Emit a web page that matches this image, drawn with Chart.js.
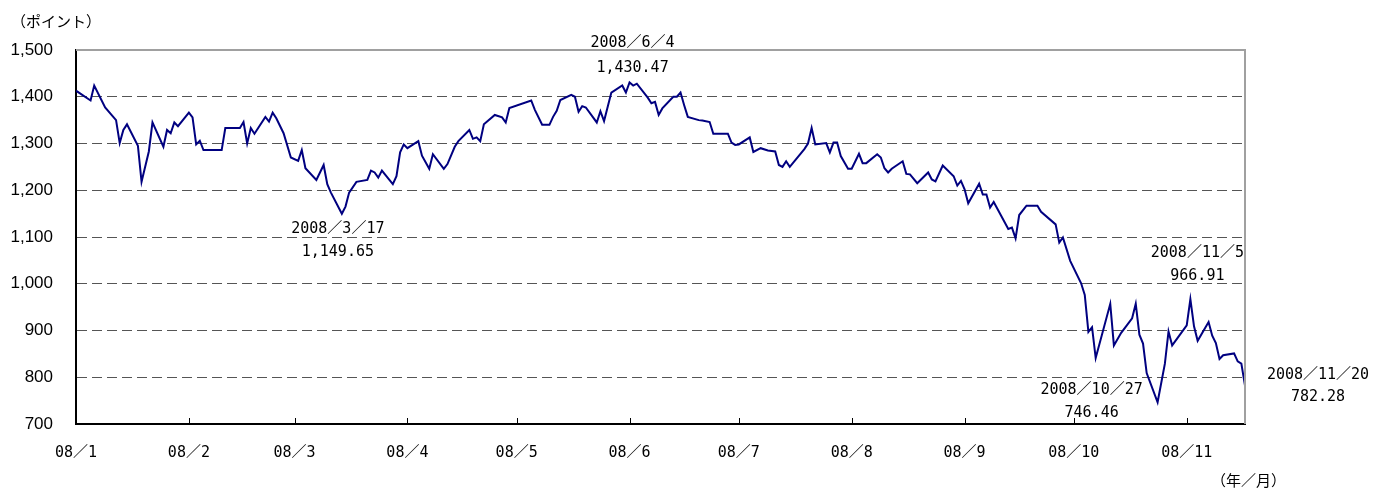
<!DOCTYPE html>
<html><head><meta charset="utf-8">
<script src="https://cdn.jsdelivr.net/npm/chart.js@4/dist/chart.umd.min.js"></script>
<style>html,body{margin:0;padding:0;background:#fff;}#wrap{width:1385px;height:489px;position:relative;}</style>
</head><body><div id="wrap"><canvas id="c" width="1385" height="489"></canvas></div>
<script>
// Days since 2008-01-01 (0 = Jan 1) for each plotted trading day
const dayIndex = [3,7,8,11,14,15,16,17,20,21,23,24,27,28,29,30,31,34,35,36,37,38,43,44,48,49,50,51,52,55,56,57,58,60,62,64,65,66,69,71,72,73,76,77,78,80,83,84,85,86,87,90,91,92,93,94,97,98,100,101,104,105,107,108,111,112,113,114,115,118,120,121,122,128,129,131,133,134,135,136,139,140,141,142,143,146,147,148,150,153,154,155,156,157,160,161,162,163,164,167,168,169,170,171,174,175,177,178,182,183,184,185,188,189,191,193,195,196,197,198,199,203,204,205,206,209,210,211,212,213,215,216,218,219,220,223,224,225,226,227,230,231,232,234,237,238,239,241,244,245,246,247,248,251,252,253,254,255,259,260,261,262,264,267,268,272,273,274,276,279,280,281,282,283,287,288,290,293,294,295,296,297,300,302,303,304,308,309,310,311,314,315,316,317,318,321,322,323,324];
// Index values (points)
const indexValues = [1413,1392,1424,1377,1350,1301,1329,1341,1295,1218,1283,1345,1293,1329,1322,1345,1337,1366,1356,1298,1306,1286,1286,1333,1333,1346,1300,1333,1321,1357,1347,1366,1354,1322,1270,1263,1286,1247,1222,1254,1213,1195,1149.65,1165,1195,1218,1222,1242,1238,1227,1242,1213,1230,1281,1298,1290,1305,1274,1246,1277,1246,1256,1293,1305,1329,1310,1313,1305,1341,1361,1356,1345,1376,1392,1372,1340,1340,1357,1370,1393,1404,1400,1368,1380,1377,1345,1369,1348,1409,1424,1409,1430.47,1424,1428,1398,1386,1389,1361,1375,1400,1400,1409,1382,1357,1350,1349,1346,1321,1321,1302,1297,1298,1313,1282,1290,1285,1283,1254,1250,1262,1250,1288,1300,1333,1298,1301,1281,1302,1302,1273,1246,1246,1278,1258,1258,1277,1270,1247,1238,1246,1262,1235,1234,1215,1238,1223,1219,1253,1230,1210,1220,1202,1172,1214,1191,1191,1163,1175,1117,1120,1097,1147,1167,1167,1154,1127,1088,1099,1049,1001,976,897,907,841,957,868,895,926,957,891,872,809,746.46,829,898,868,911,966.91,909,878,918,889,873,839,847,851,834,829,782.28];
// X axis ticks (days since Jan 1) and their labels
const tickDays = [3,34,63,94,124,155,185,216,247,277,308];
const tickLabels = ['08／1','08／2','08／3','08／4','08／5','08／6','08／7','08／8','08／9','08／10','08／11'];
// Y axis
const yMin = 700, yMax = 1500, yStep = 100;
// Annotated points
const noteDays = [155, 76, 309, 300, 324];
const noteDates = ['2008／6／4','2008／3／17','2008／11／5','2008／10／27','2008／11／20'];
const noteValues = ['1,430.47','1,149.65','966.91','746.46','782.28'];
// label offsets (style only) relative to the point: [dx, dy line1, dy line2]
const noteOffsets = [[3,-39.5,-14],[-4,15,38],[7,-46,-23],[-66,-12,11],[73,-10.5,11.5]];

const points = dayIndex.map((d,i)=>({x:d, y:indexValues[i]}));
const monoFamily = '"DejaVu Sans Mono", "Noto Sans CJK JP", monospace';
const monoFont = '15px ' + monoFamily;
const cjkFont = '15px "Noto Sans CJK JP", sans-serif';

const decor = {
  id:'decor',
  afterDraw(chart){
    const {ctx, chartArea:a, scales:{x, y}} = chart;
    ctx.save();
    ctx.strokeStyle = '#a0a0a0'; ctx.lineWidth = 2;
    ctx.beginPath(); ctx.moveTo(a.left, a.top); ctx.lineTo(a.right, a.top); ctx.lineTo(a.right, a.bottom); ctx.stroke();
    ctx.strokeStyle = '#000'; ctx.lineWidth = 1;
    tickDays.forEach(d=>{
      const px = Math.round(x.getPixelForValue(d)) + 0.5;
      ctx.beginPath(); ctx.moveTo(px, a.bottom); ctx.lineTo(px, a.bottom - 6); ctx.stroke();
    });
    ctx.fillStyle = '#000'; ctx.font = monoFont; ctx.textAlign = 'center'; ctx.textBaseline = 'middle';
    noteDays.forEach((d,i)=>{
      const v = indexValues[dayIndex.indexOf(d)];
      const px = x.getPixelForValue(d), py = y.getPixelForValue(v);
      const o = noteOffsets[i];
      ctx.fillText(noteDates[i], px + o[0], py + o[1]);
      ctx.fillText(noteValues[i], px + o[0], py + o[2]);
    });
    ctx.font = cjkFont; ctx.textAlign = 'left';
    ctx.fillText('（ポイント）', 11, 21);
    ctx.fillText('（年／月）', 1211, 480);
    ctx.restore();
  }
};

new Chart(document.getElementById('c'), {
  type:'line',
  data:{datasets:[{data:points, borderColor:'#000080', borderWidth:2, pointRadius:0, tension:0, fill:false}]},
  options:{
    responsive:false, animation:false, devicePixelRatio:1,
    layout:{padding:{top:50, right:140, left:0, bottom:0}},
    plugins:{legend:{display:false}, tooltip:{enabled:false}},
    scales:{
      x:{type:'linear', min:3, max:324,
        afterBuildTicks(s){ s.ticks = tickDays.map(v=>({value:v})); },
        afterFit(s){ s.height = 65; },
        grid:{display:false, drawTicks:false},
        border:{display:true, color:'#000', width:2},
        ticks:{autoSkip:false, maxRotation:0, padding:20, color:'#000', font:{family:monoFamily, size:15},
          callback:(v)=>{const k=tickDays.indexOf(v); return k>=0?tickLabels[k]:'';}}
      },
      y:{min:yMin, max:yMax,
        afterFit(s){ s.width = 76; },
        grid:{color:'#555', lineWidth:1, drawTicks:false},
        border:{display:true, color:'#000', width:2, dash:[10,5]},
        ticks:{stepSize:yStep, padding:23, color:'#000', font:{family:'"Liberation Sans", Arial, sans-serif', size:17},
          callback:(v)=>v.toLocaleString('en-US')}
      }
    }
  },
  plugins:[decor]
});
</script></body></html>
